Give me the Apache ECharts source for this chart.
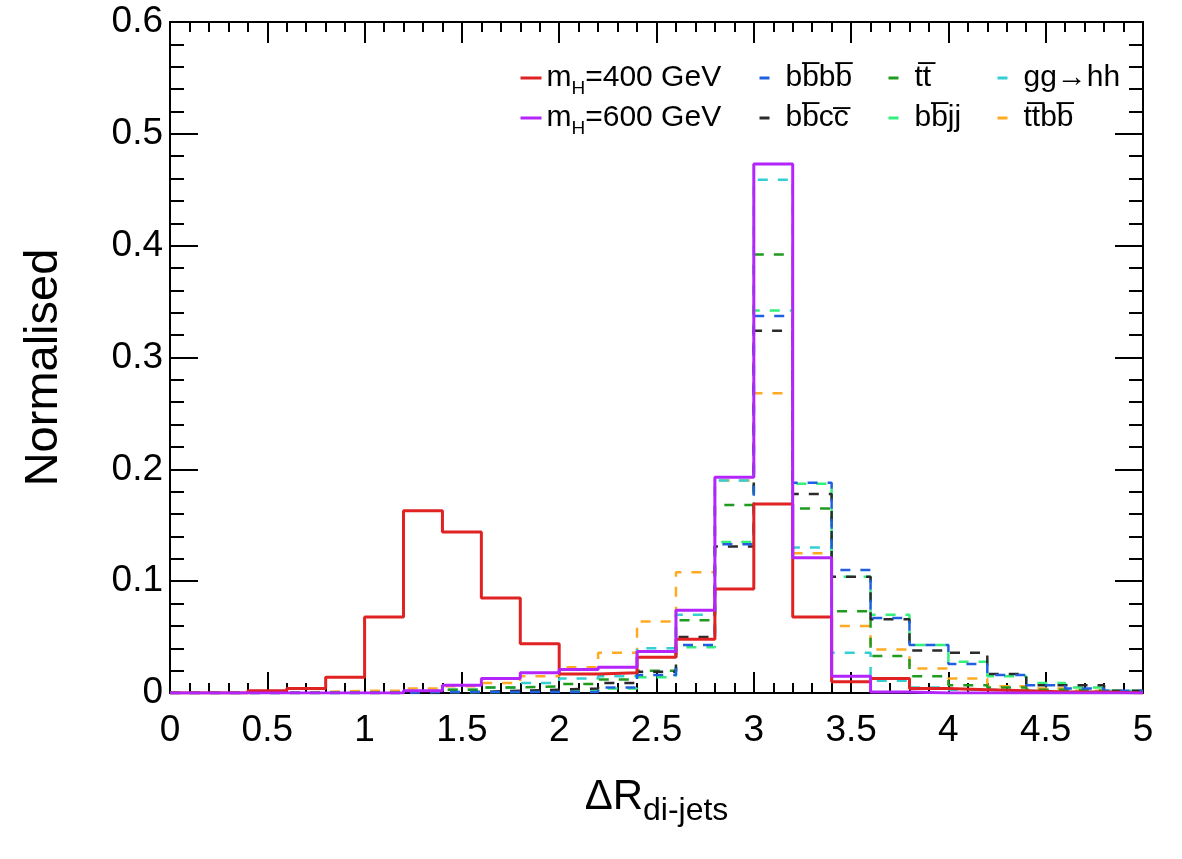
<!DOCTYPE html>
<html>
<head>
<meta charset="utf-8">
<script src="https://cdn.jsdelivr.net/npm/echarts@6/dist/echarts.min.js"></script>
<style>
  html, body { margin: 0; padding: 0; background: #fff; }
  #chart { width: 1182px; height: 859px; }
</style>
</head>
<body>
<div id="chart"></div>
<script>
// bin edges of the histogram (width 0.2)
var binEdges = [0, 0.2, 0.4, 0.6, 0.8, 1.0, 1.2, 1.4, 1.6, 1.8, 2.0, 2.2, 2.4,
  2.6, 2.8, 3.0, 3.2, 3.4, 3.6, 3.8, 4.0, 4.2, 4.4, 4.6, 4.8, 5.0];

var m400 = [0, 0, 0.002, 0.004, 0.014, 0.068, 0.163, 0.144, 0.085, 0.044, 0.017, 0.018, 0.032,
  0.048, 0.093, 0.169, 0.068, 0.010, 0.013, 0.004, 0.003, 0.002, 0.001, 0.001, 0];
var m600 = [0, 0, 0, 0, 0, 0, 0.002, 0.007, 0.013, 0.018, 0.021, 0.023, 0.037,
  0.074, 0.193, 0.473, 0.121, 0.015, 0.001, 0, 0, 0, 0, 0, 0];
var bbbb = [0, 0, 0, 0, 0, 0, 0.001, 0.001, 0.001, 0.001, 0.001, 0.005, 0.016,
  0.043, 0.133, 0.337, 0.188, 0.110, 0.067, 0.043, 0.026, 0.016, 0.007, 0.004, 0.002];
var bbcc = [0, 0, 0, 0, 0, 0, 0, 0.001, 0.002, 0.003, 0.004, 0.009, 0.019,
  0.050, 0.131, 0.324, 0.178, 0.104, 0.066, 0.038, 0.036, 0.017, 0.007, 0.007, 0.002];
var tt = [0, 0, 0, 0, 0, 0, 0.001, 0.003, 0.005, 0.006, 0.008, 0.012, 0.020,
  0.065, 0.168, 0.392, 0.165, 0.073, 0.033, 0.015, 0.007, 0.005, 0.003, 0.002, 0.001];
var bbjj = [0, 0, 0, 0, 0, 0, 0, 0.001, 0.001, 0.002, 0.002, 0.004, 0.014,
  0.041, 0.135, 0.342, 0.187, 0.104, 0.070, 0.043, 0.028, 0.015, 0.009, 0.005, 0.002];
var gghh = [0, 0, 0, 0, 0, 0, 0.001, 0.003, 0.005, 0.009, 0.013, 0.015, 0.040,
  0.070, 0.190, 0.459, 0.130, 0.036, 0.011, 0.005, 0.003, 0.002, 0.001, 0.001, 0.001];
var ttbb = [0, 0, 0, 0.001, 0.002, 0.002, 0.004, 0.006, 0.009, 0.015, 0.023, 0.036, 0.064,
  0.108, 0.190, 0.268, 0.125, 0.060, 0.039, 0.022, 0.013, 0.006, 0.004, 0.002, 0.001];

var xTicks = [0, 0.5, 1, 1.5, 2, 2.5, 3, 3.5, 4, 4.5, 5];
var yTicks = [0, 0.1, 0.2, 0.3, 0.4, 0.5, 0.6];

var OL = '\u0305'; // combining overline
var labels = {
  'm400': '{n|m}{s|H}{n|=400 GeV}',
  'm600': '{n|m}{s|H}{n|=600 GeV}',
  'bbbb': 'bb' + OL + 'bb' + OL,
  'bbcc': 'bb' + OL + 'cc' + OL,
  'tt': 'tt' + OL,
  'bbjj': 'bb' + OL + 'jj',
  'gghh': 'gg\u2192hh',
  'ttbb': 'tt' + OL + 'bb' + OL
};

var FONT = 'Liberation Sans, Arial, Helvetica, sans-serif';

function histData(vals) {
  var d = [];
  for (var i = 0; i < vals.length; i++) d.push([binEdges[i], vals[i]]);
  d.push([binEdges[vals.length], vals[vals.length - 1]]);
  return d;
}

function histSeries(name, vals, color, dashed) {
  return {
    name: name,
    type: 'line',
    step: 'end',
    symbol: 'none',
    silent: true,
    z: dashed ? 2 : 3,
    data: histData(vals),
    lineStyle: {
      color: color,
      width: dashed ? 2.5 : 3,
      type: dashed ? [10, 10] : 'solid'
    },
    itemStyle: { color: color }
  };
}

function legendCol(names, left, dashed) {
  return {
    orient: 'vertical',
    left: left,
    top: 58,
    padding: 0,
    itemGap: 0,
    itemWidth: 21,
    itemHeight: 14,
    data: names,
    itemStyle: { opacity: 0 },
    lineStyle: dashed ? { type: [10, 12], width: 3 } : { type: 'solid', width: 3 },
    formatter: function (n) { return labels[n]; },
    textStyle: {
      fontFamily: FONT,
      fontSize: 30,
      lineHeight: 40,
      color: '#000',
      rich: {
        n: { fontFamily: FONT, fontSize: 30, lineHeight: 40, color: '#000' },
        s: { fontFamily: FONT, fontSize: 19, lineHeight: 18, verticalAlign: 'bottom', color: '#000' }
      }
    }
  };
}

function frameAxis(extra) {
  var ax = {
    type: 'value',
    axisLine: { show: true, onZero: false, lineStyle: { color: '#000', width: 2 } },
    splitLine: { show: false }
  };
  for (var k in extra) ax[k] = extra[k];
  return ax;
}

var xTick = { show: true, inside: true, length: 21, lineStyle: { color: '#000', width: 2 } };
var xMinor = { show: true, splitNumber: 5, length: 10, lineStyle: { color: '#000', width: 2 } };
var yTick = { show: true, inside: true, length: 28, lineStyle: { color: '#000', width: 2 } };
var yMinor = { show: true, splitNumber: 5, length: 14, lineStyle: { color: '#000', width: 2 } };

var chart = echarts.init(document.getElementById('chart'));

var option = {
  backgroundColor: '#fff',
  animation: false,
  grid: { left: 170, right: 39, top: 22, bottom: 166 },
  legend: [
    legendCol(['m400', 'm600'], 519, false),
    legendCol(['bbbb', 'bbcc'], 758, true),
    legendCol(['tt', 'bbjj'], 887, true),
    legendCol(['gghh', 'ttbb'], 996, true)
  ],
  xAxis: [
    frameAxis({
      position: 'bottom',
      min: xTicks[0],
      max: xTicks[xTicks.length - 1],
      interval: 0.5,
      name: '{a|\u0394R}{b|di-jets}',
      nameLocation: 'middle',
      nameGap: 74,
      nameTextStyle: {
        rich: {
          a: { fontFamily: FONT, fontSize: 42, lineHeight: 60, color: '#000' },
          b: { fontFamily: FONT, fontSize: 32, lineHeight: 26, verticalAlign: 'bottom', color: '#000' }
        }
      },
      axisTick: xTick,
      minorTick: xMinor,
      axisLabel: { fontFamily: FONT, fontSize: 37, color: '#000', margin: 19 }
    }),
    frameAxis({
      position: 'top',
      min: xTicks[0],
      max: xTicks[xTicks.length - 1],
      interval: 0.5,
      axisTick: xTick,
      minorTick: xMinor,
      axisLabel: { show: false }
    })
  ],
  yAxis: [
    frameAxis({
      position: 'left',
      min: yTicks[0],
      max: yTicks[yTicks.length - 1],
      interval: 0.1,
      name: 'Normalised',
      nameLocation: 'middle',
      nameGap: 102,
      nameTextStyle: { fontFamily: FONT, fontSize: 47, color: '#000', padding: [0, 20, 0, 0] },
      axisTick: yTick,
      minorTick: yMinor,
      axisLabel: { fontFamily: FONT, fontSize: 37, color: '#000', margin: 7 }
    }),
    frameAxis({
      position: 'right',
      min: yTicks[0],
      max: yTicks[yTicks.length - 1],
      interval: 0.1,
      axisTick: yTick,
      minorTick: yMinor,
      axisLabel: { show: false }
    })
  ],
  series: [
    histSeries('ttbb', ttbb, '#ffaa22', true),
    histSeries('gghh', gghh, '#33cfd4', true),
    histSeries('bbjj', bbjj, '#33f07a', true),
    histSeries('tt', tt, '#1f9c1f', true),
    histSeries('bbcc', bbcc, '#2b2b2b', true),
    histSeries('bbbb', bbbb, '#2060e0', true),
    histSeries('m400', m400, '#e02222', false),
    histSeries('m600', m600, '#b425fb', false)
  ]
};

chart.setOption(option);
</script>
</body>
</html>
